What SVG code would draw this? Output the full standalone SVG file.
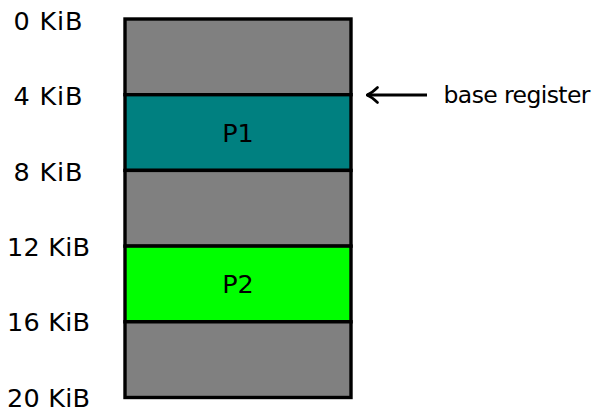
<svg xmlns="http://www.w3.org/2000/svg" width="597" height="408" viewBox="0 0 597 408">
<style>
text{font-family:"DejaVu Sans","Liberation Sans",sans-serif;fill:#000}
.lbl{font-size:25.5px;text-anchor:middle}
.seg{stroke:#000;stroke-width:3.4}
.free{fill:#808080}
</style>
<defs>
<marker id="ah" viewBox="0 0 13 18" refX="12" refY="9" markerWidth="13" markerHeight="18" markerUnits="userSpaceOnUse" orient="auto">
<path d="M1.5,1.5 Q7,7 12,9 Q7,11 1.5,16.5" fill="none" stroke="#000" stroke-width="2.6" stroke-linecap="round" stroke-linejoin="round"/>
</marker>
</defs>
<g id="memory">
<rect id="seg0" class="seg free" x="125" y="19" width="226" height="75.7"/>
<g id="P1"><rect class="seg" x="125" y="94.7" width="226" height="75.7" fill="#008080"/><text x="238" y="142" class="lbl">P1</text></g>
<rect id="seg2" class="seg free" x="125" y="170.4" width="226" height="75.7"/>
<g id="P2"><rect class="seg" x="125" y="246.1" width="226" height="75.7" fill="#00ff00"/><text x="238" y="293" class="lbl">P2</text></g>
<rect id="seg4" class="seg free" x="125" y="321.8" width="226" height="75.7"/>
</g>
<g id="labels">
<text class="lbl" x="48" y="30" textLength="69">0 KiB</text>
<text class="lbl" x="48" y="105" textLength="69">4 KiB</text>
<text class="lbl" x="48" y="180.5" textLength="69">8 KiB</text>
<text class="lbl" x="48.5" y="255.5" textLength="83">12 KiB</text>
<text class="lbl" x="48.5" y="331" textLength="83">16 KiB</text>
<text class="lbl" x="48.5" y="406.5" textLength="83">20 KiB</text>
</g>
<g id="connectors">
<line x1="427" y1="95" x2="367" y2="95" stroke="#000" stroke-width="2.8" marker-end="url(#ah)"/>
</g>
<g id="base-register">
<text x="443.5" y="103.3" font-size="23.5" textLength="147">base register</text>
</g>
</svg>
